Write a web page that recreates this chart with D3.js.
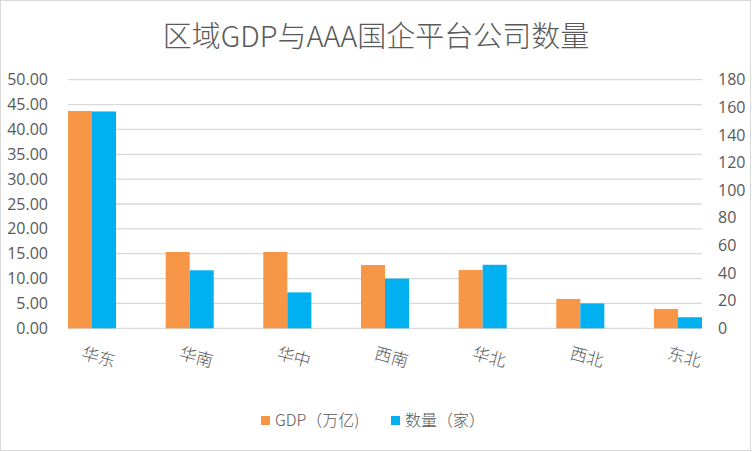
<!DOCTYPE html>
<html>
<head>
<meta charset="utf-8">
<script src="https://cdn.jsdelivr.net/npm/d3@7"></script>
<style>
  body { margin: 0; background: #fff; }
  text { font-family: "Noto Sans CJK SC", "Noto Sans", sans-serif; fill: #595959; }
</style>
</head>
<body>
<div id="chart"></div>
<script>
const regions = ["华东", "华南", "华中", "西南", "华北", "西北", "东北"];
const gdp = [43.7, 15.35, 15.35, 12.73, 11.73, 5.9, 3.9];
const count = [157, 42, 26, 36, 46, 18, 8];
const leftTicks = [0, 5, 10, 15, 20, 25, 30, 35, 40, 45, 50];
const rightTicks = [0, 20, 40, 60, 80, 100, 120, 140, 160, 180];
const seriesNames = ["GDP（万亿)", "数量（家）"];
const colors = ["#F79646", "#00B0F0"];

const width = 752;
const height = 452;
const plot = { left: 68, right: 702, top: 79.7, bottom: 328.3 };

const svg = d3.select("#chart")
  .append("svg")
  .attr("width", width)
  .attr("height", height);

svg.append("rect")
  .attr("x", 0.5).attr("y", 0.5)
  .attr("width", 750).attr("height", 450)
  .attr("fill", "#fff")
  .attr("stroke", "#d9d9d9");

svg.append("text")
  .attr("x", 376)
  .attr("y", 47)
  .attr("text-anchor", "middle")
  .style("font-size", "29px")
  .style("font-weight", 300)
  .text("区域GDP与AAA国企平台公司数量");

const x = d3.scaleBand()
  .domain(regions)
  .range([plot.left, plot.right])
  .paddingInner(0.508)
  .paddingOuter(0);

const xSub = d3.scaleBand()
  .domain([0, 1])
  .range([0, x.bandwidth()]);

const yLeft = d3.scaleLinear().domain([0, 50]).range([plot.bottom, plot.top]);
const yRight = d3.scaleLinear().domain([0, 180]).range([plot.bottom, plot.top]);

// gridlines
svg.append("g")
  .selectAll("line")
  .data(leftTicks)
  .enter()
  .append("line")
  .attr("x1", plot.left)
  .attr("x2", plot.right)
  .attr("y1", (d) => yLeft(d))
  .attr("y2", (d) => yLeft(d))
  .attr("stroke", "#d9d9d9")
  .attr("stroke-width", 1.3);

// left axis
const leftAxis = svg.append("g")
  .attr("transform", "translate(48,0)")
  .call(d3.axisLeft(yLeft).tickValues(leftTicks).tickFormat(d3.format(".2f")).tickSize(0).tickPadding(0));
leftAxis.select(".domain").remove();
leftAxis.selectAll("text").style("font-size", "16px").style("font-family", "'Open Sans', 'Noto Sans', sans-serif").style("fill", "#595959");

// right axis
const rightAxis = svg.append("g")
  .attr("transform", "translate(718,0)")
  .call(d3.axisRight(yRight).tickValues(rightTicks).tickSize(0).tickPadding(0));
rightAxis.select(".domain").remove();
rightAxis.selectAll("text").style("font-size", "16px").style("font-family", "'Open Sans', 'Noto Sans', sans-serif").style("fill", "#595959");

// bars
const groups = svg.append("g")
  .selectAll("g")
  .data(regions)
  .enter()
  .append("g")
  .attr("transform", (d) => `translate(${x(d)},0)`);

groups.append("rect")
  .attr("x", xSub(0))
  .attr("width", xSub.bandwidth())
  .attr("y", (d, i) => yLeft(gdp[i]))
  .attr("height", (d, i) => yLeft(0) - yLeft(gdp[i]))
  .attr("fill", colors[0]);

groups.append("rect")
  .attr("x", xSub(1))
  .attr("width", xSub.bandwidth())
  .attr("y", (d, i) => yRight(count[i]))
  .attr("height", (d, i) => yRight(0) - yRight(count[i]))
  .attr("fill", colors[1]);

// category labels, slanted
svg.append("g")
  .selectAll("text")
  .data(regions)
  .enter()
  .append("text")
  .attr("transform", (d) => `translate(${x(d) + x.bandwidth() / 2 + 5},363) rotate(15)`)
  .attr("text-anchor", "middle")
  .style("font-size", "17px")
  .style("font-weight", 300)
  .text((d) => d);

// legend
const legendPos = [261, 391];
const legend = svg.append("g")
  .selectAll("g")
  .data(seriesNames)
  .enter()
  .append("g")
  .attr("transform", (d, i) => `translate(${legendPos[i]},416)`);

legend.append("rect")
  .attr("width", 9)
  .attr("height", 9)
  .attr("fill", (d, i) => colors[i]);

legend.append("text")
  .attr("x", 14)
  .attr("y", 10)
  .style("font-size", "16px")
  .style("font-weight", 300)
  .text((d) => d);
</script>
</body>
</html>
